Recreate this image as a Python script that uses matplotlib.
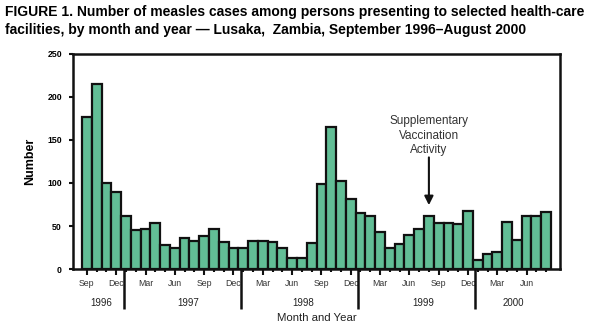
import matplotlib
matplotlib.use('Agg')
from matplotlib import pyplot, transforms
import numpy as np
import pandas as pd

pyplot.rcParams['font.family'] = ['Liberation Sans', 'DejaVu Sans']

# monthly measles cases, Sep 1996 - Aug 2000
cases = [177, 215, 100, 90,
         62, 45, 47, 53, 28, 24, 36, 32, 38, 47, 31, 24,
         24, 33, 32, 31, 24, 13, 13, 30, 99, 165, 102, 81,
         65, 62, 43, 25, 29, 39, 47, 62, 54, 54, 52, 67,
         11, 18, 20, 55, 34, 62, 62, 66]
dates_idx = pd.date_range('1996-09-01', periods=len(cases), freq='MS')
month_names = [d.strftime('%b') for d in dates_idx]
years = [d.year for d in dates_idx]
year_labels = ['1996', '1997', '1998', '1999', '2000']
year_label_x = [1.5, 10.4, 22.15, 34.4, 43.6]
yticks = [0, 50, 100, 150, 200, 250]
campaign_month = 35  # Aug 1999

bar_color = '#62be96'

fig = pyplot.figure(figsize=(6.04, 3.36), dpi=100)
ax = fig.add_axes([0.1209, 0.1994, 0.8063, 0.6399])

x = np.arange(len(cases))
ax.bar(x, cases, width=1.0, color=bar_color, edgecolor='#111111', linewidth=1.6, zorder=2)

ax.set_xlim(-1.42, len(cases) + 0.42)
ax.set_ylim(0, 250)

for s in ax.spines.values():
    s.set_linewidth(1.8)
    s.set_color('#111111')

# y axis
ax.set_yticks(yticks)
ax.set_yticklabels([str(v) for v in yticks], fontsize=6.3, fontweight='bold')
ax.tick_params(axis='y', direction='out', length=3, width=1.5, pad=5, color='#111111')
ax.set_ylabel('Number', fontsize=9, fontweight='bold', labelpad=8)

# x axis: minor tick every month, labels every 3 months
major = [i for i in x if i % 3 == 0]
ax.set_xticks(major)
ax.set_xticklabels([month_names[i] for i in major], fontsize=6.3, color='#333333')
ax.set_xticks(x, minor=True)
ax.tick_params(axis='x', which='major', direction='out', length=4.3, width=1.5, pad=3, color='#111111')
ax.tick_params(axis='x', which='minor', direction='out', length=2.5, width=1.5, color='#111111')

# year separators and labels
trans = transforms.blended_transform_factory(ax.transData, ax.transAxes)
for i in range(1, len(years)):
    if years[i] != years[i - 1]:
        ax.plot([i - 0.25, i - 0.25], [0, -0.186], transform=trans, color='#111111',
                lw=1.8, clip_on=False, solid_capstyle='butt')
for lab, xp in zip(year_labels, year_label_x):
    ax.text(xp, -0.157, lab, transform=trans, ha='center', va='center', fontsize=7, color='#222222')

ax.set_xlabel('Month and Year', fontsize=8.2, color='#222222')
ax.xaxis.set_label_coords(0.5, -0.205)

# annotation
ax.annotate('', xy=(campaign_month, 71), xytext=(campaign_month, 133),
            arrowprops=dict(arrowstyle='-|>', color='#111111', lw=1.5, mutation_scale=13))
ax.text(campaign_month, 155, 'Supplementary\nVaccination\nActivity', ha='center', va='center',
        fontsize=8.5, color='#333333', linespacing=1.25)

fig.text(0.008, 0.965, 'FIGURE 1. Number of measles cases among persons presenting to selected health-care',
         fontsize=10, fontweight='bold', va='center', ha='left')
fig.text(0.008, 0.91, 'facilities, by month and year \u2014 Lusaka,  Zambia, September 1996\u2013August 2000',
         fontsize=10, fontweight='bold', va='center', ha='left')

fig.savefig('out.png', dpi=100)
